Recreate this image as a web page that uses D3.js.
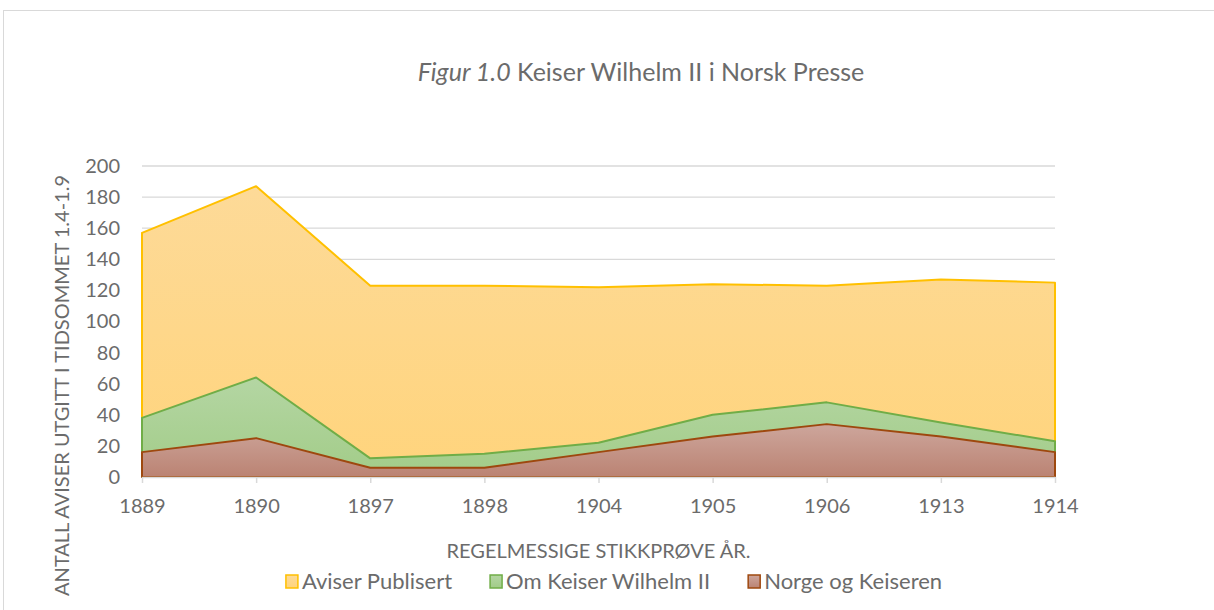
<!DOCTYPE html>
<html>
<head>
<meta charset="utf-8">
<script src="https://cdnjs.cloudflare.com/ajax/libs/d3/7.8.5/d3.min.js"></script>
<style>
  body { margin: 0; background: #fff; }
  svg { display: block; font-family: Lato, "Open Sans", sans-serif; }
</style>
</head>
<body>
<div id="chart"></div>
<script>
// data
var years = ["1889", "1890", "1897", "1898", "1904", "1905", "1906", "1913", "1914"];
var aviserPublisert = [157, 187, 123, 123, 122, 124, 123, 127, 125];
var omKeiser = [38, 64, 12, 15, 22, 40, 48, 35, 23];
var norgeKeiser = [16, 25, 6, 6, 16, 26, 34, 26, 16];
var yTicks = [0, 20, 40, 60, 80, 100, 120, 140, 160, 180, 200];
var seriesNames = ["Aviser Publisert", "Om Keiser Wilhelm II", "Norge og Keiseren"];

var W = 1214, H = 610;
var margin = {top: 166, right: 159, bottom: 133, left: 142}
  , width = W - margin.left - margin.right
  , height = H - margin.top - margin.bottom;

var textColor = "#6b6b6b";

var series = [
  {name: seriesNames[0], values: aviserPublisert, line: "#FFC000", top: "#FDDA98", bottom: "#FFD47C"},
  {name: seriesNames[1], values: omKeiser, line: "#70AD47", top: "#B4D6A3", bottom: "#A2CC88"},
  {name: seriesNames[2], values: norgeKeiser, line: "#9E480E", top: "#CDA69C", bottom: "#BB8373"}
];

var svg = d3.select("#chart").append("svg")
    .attr("width", W)
    .attr("height", H);

// chart frame
svg.append("rect")
    .attr("x", 3.5).attr("y", 10.5)
    .attr("width", 1400).attr("height", 800)
    .attr("fill", "#fff")
    .attr("stroke", "#D9D9D9");

var defs = svg.append("defs");
series.forEach(function(s, i) {
  var g = defs.append("linearGradient")
      .attr("id", "grad" + i)
      .attr("x1", 0).attr("y1", 0).attr("x2", 0).attr("y2", 1);
  g.append("stop").attr("offset", "0%").attr("stop-color", s.top);
  g.append("stop").attr("offset", "100%").attr("stop-color", s.bottom);
});

var xScale = d3.scalePoint()
    .domain(years)
    .range([0, width]);

var yScale = d3.scaleLinear()
    .domain([0, 200])
    .range([height, 0]);

var chart = svg.append("g")
    .attr("transform", "translate(" + margin.left + "," + margin.top + ")");

// gridlines
chart.append("g")
    .selectAll("line")
    .data(yTicks.slice(1))
    .enter().append("line")
    .attr("x1", 0).attr("x2", width)
    .attr("y1", function(d) { return yScale(d); })
    .attr("y2", function(d) { return yScale(d); })
    .attr("stroke", "#D9D9D9")
    .attr("stroke-width", 1.3);

var area = d3.area()
    .x(function(d, i) { return xScale(years[i]); })
    .y0(yScale(0))
    .y1(function(d) { return yScale(d); });

series.forEach(function(s, i) {
  chart.append("path")
      .datum(s.values)
      .attr("d", area)
      .attr("fill", "url(#grad" + i + ")")
      .attr("stroke", s.line)
      .attr("stroke-width", 2)
      .attr("stroke-linejoin", "round");
});

// x axis
var xAxis = chart.append("g")
    .attr("transform", "translate(0," + height + ")")
    .call(d3.axisBottom(xScale).tickSize(6).tickSizeOuter(0));
xAxis.select(".domain").attr("stroke", "#D9D9D9").attr("stroke-width", 1.5);
xAxis.selectAll(".tick line").attr("stroke", "#D9D9D9").attr("stroke-width", 1.5);
xAxis.selectAll(".tick text")
    .attr("y", 22)
    .attr("dy", "0.71em")
    .attr("fill", textColor)
    .style("font-size", "20px")
    .style("font-family", "Lato, sans-serif");

// y axis
var yAxis = chart.append("g")
    .call(d3.axisLeft(yScale).tickValues(yTicks).tickSize(0).tickPadding(22));
yAxis.select(".domain").remove();
yAxis.selectAll(".tick text")
    .attr("fill", textColor)
    .style("font-size", "20px")
    .style("font-family", "Lato, sans-serif");

// title
var title = svg.append("text")
    .attr("x", 641)
    .attr("y", 81)
    .attr("text-anchor", "middle")
    .attr("fill", textColor)
    .style("font-size", "25px");
title.append("tspan").style("font-style", "italic").text("Figur 1.0");
title.append("tspan").text(" Keiser Wilhelm II i Norsk Presse");

// axis titles
svg.append("text")
    .attr("x", margin.left + width / 2)
    .attr("y", 558)
    .attr("text-anchor", "middle")
    .attr("fill", textColor)
    .style("font-size", "20px")
    .text("REGELMESSIGE STIKKPRØVE ÅR.");

svg.append("text")
    .attr("transform", "translate(69,175) rotate(-90)")
    .attr("text-anchor", "end")
    .attr("fill", textColor)
    .style("font-size", "20px")
    .text("ANTALL AVISER UTGITT I TIDSOMMET 1.4-1.9");

// legend
var legend = svg.append("g");
var items = legend.selectAll("g")
    .data(series)
    .enter().append("g");
items.append("rect")
    .attr("width", 12).attr("height", 13)
    .attr("y", -14)
    .attr("fill", function(d, i) { return "url(#grad" + i + ")"; })
    .attr("stroke", function(d) { return d.line; })
    .attr("stroke-width", 1.5);
items.append("text")
    .attr("x", 16)
    .attr("fill", textColor)
    .style("font-size", "22px")
    .text(function(d) { return d.name; });

var gap = 38, offsets = [], total = 0;
items.each(function() {
  var w = 16 + this.querySelector("text").getComputedTextLength();
  offsets.push(total);
  total += w + gap;
});
total -= gap;
var startX = 614 - total / 2;
items.attr("transform", function(d, i) { return "translate(" + (startX + offsets[i]) + ",589)"; });
</script>
</body>
</html>
